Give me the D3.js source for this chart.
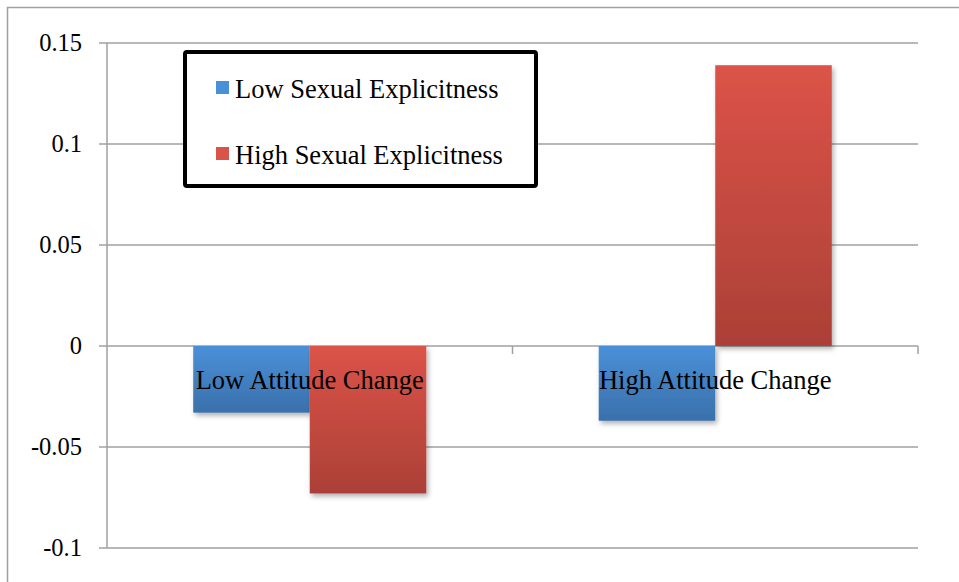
<!DOCTYPE html>
<html><head><meta charset="utf-8">
<script src="https://cdn.jsdelivr.net/npm/d3@7"></script>
<style>body{margin:0;background:#fff}svg{display:block}text{font-family:"Liberation Serif","Times New Roman",serif;fill:#000}</style>
</head><body><svg id="c" width="959" height="582"></svg>
<script>
const categories = ["Low Attitude Change", "High Attitude Change"];
const seriesNames = ["Low Sexual Explicitness", "High Sexual Explicitness"];
const lowExplicit = [-0.033, -0.037];
const highExplicit = [-0.073, 0.139];
const yTicks = [0.15, 0.1, 0.05, 0, -0.05, -0.1];
const yTickLabels = ["0.15", "0.1", "0.05", "0", "-0.05", "-0.1"];

const svg = d3.select("#c");
const M = {left:107, right:918, top:43, bottom:548};
const y = d3.scaleLinear().domain([-0.1, 0.15]).range([M.bottom, M.top]);
const x0 = d3.scaleBand().domain(categories).range([M.left, M.right]).paddingInner(0).paddingOuter(0);
const x1 = d3.scaleBand().domain(seriesNames).range([0, x0.bandwidth()]).paddingInner(0).paddingOuter(0.74);

const defs = svg.append("defs");
function grad(id, c1, c2){
  const g = defs.append("linearGradient").attr("id", id).attr("x1",0).attr("y1",0).attr("x2",0).attr("y2",1);
  g.append("stop").attr("offset","0%").attr("stop-color",c1);
  g.append("stop").attr("offset","100%").attr("stop-color",c2);
}
grad("gBlue", "#4a90d8", "#3a70ab");
grad("gRed", "#dc5348", "#ab4037");
const f = defs.append("filter").attr("id","sh").attr("x","-20%").attr("y","-20%").attr("width","150%").attr("height","150%");
f.append("feDropShadow").attr("dx",2).attr("dy",3).attr("stdDeviation",2.5).attr("flood-color","#000").attr("flood-opacity",0.3);

// outer border
svg.append("path").attr("d","M7.5,582 L7.5,7.5 L959,7.5").attr("fill","none").attr("stroke","#a0a0a0").attr("stroke-width",1.5);

// gridlines
svg.append("g").selectAll("line").data(yTicks).join("line")
  .attr("x1", M.left - 8).attr("x2", M.right)
  .attr("y1", d => y(d)).attr("y2", d => y(d))
  .attr("stroke", "#a0a0a0").attr("stroke-width", 1.5);
// y axis line
svg.append("line").attr("x1",M.left).attr("x2",M.left).attr("y1",y(0.15)).attr("y2",y(-0.1)).attr("stroke","#a0a0a0").attr("stroke-width",1.5);
// y labels
svg.append("g").selectAll("text").data(yTicks).join("text")
  .attr("x", 82).attr("y", d => y(d) + 8)
  .attr("text-anchor","end").attr("font-size", 24.5)
  .text((d,i) => yTickLabels[i]);

// category ticks on zero line
const catEdges = categories.map(c => x0(c) + x0.bandwidth());
svg.append("g").selectAll("line").data(catEdges).join("line")
  .attr("x1", d=>d).attr("x2", d=>d).attr("y1", y(0)).attr("y2", y(0)+8)
  .attr("stroke","#a0a0a0").attr("stroke-width",1.5);

// bars
const data = [];
categories.forEach((c,i) => {
  data.push({cat:c, s:seriesNames[0], v:lowExplicit[i], fill:"url(#gBlue)"});
  data.push({cat:c, s:seriesNames[1], v:highExplicit[i], fill:"url(#gRed)"});
});
svg.append("g").selectAll("rect").data(data).join("rect")
  .attr("x", d => x0(d.cat) + x1(d.s))
  .attr("width", x1.bandwidth())
  .attr("y", d => y(Math.max(0, d.v)))
  .attr("height", d => Math.abs(y(d.v) - y(0)))
  .attr("fill", d => d.fill)
  .attr("filter", "url(#sh)");

// category labels
svg.append("g").selectAll("text").data(categories).join("text")
  .attr("x", d => x0(d) + x0.bandwidth()/2)
  .attr("y", y(0) + 43)
  .attr("text-anchor","middle").attr("font-size", 26.5)
  .text(d => d);

// legend
const lg = svg.append("g");
lg.append("rect").attr("x",185).attr("y",52).attr("width",351).attr("height",134).attr("rx",2)
  .attr("fill","#fff").attr("stroke","#000").attr("stroke-width",4);
const legColors = ["#4a90d8", "#d9534a"];
seriesNames.forEach((s,i) => {
  const cy = 87 + i*66;
  lg.append("rect").attr("x",216).attr("y",cy-6).attr("width",13).attr("height",13).attr("fill",legColors[i]);
  lg.append("text").attr("x",235).attr("y",cy+11).attr("font-size",26.5).text(s);
});
</script></body></html>
